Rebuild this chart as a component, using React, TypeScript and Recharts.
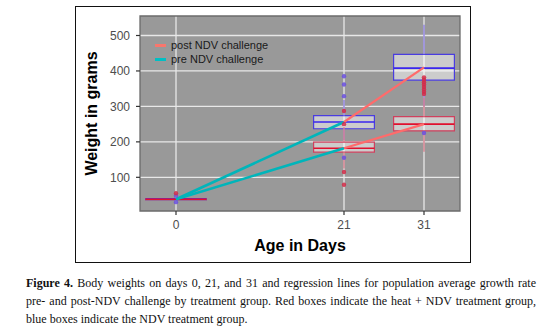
import React from "react";
import {
  ComposedChart,
  XAxis,
  YAxis,
  CartesianGrid,
  ReferenceArea,
  ReferenceLine,
  Scatter,
  Line,
} from "recharts";

// days sampled
const days = [0, 21, 31];
const xTicks = [0, 21, 31];
const yTicks = [100, 200, 300, 400, 500];

// NDV group (blue boxes)
const ndvLow = [36, 205, 300];
const ndvQ1 = [37, 237, 374];
const ndvMed = [38.5, 256, 408];
const ndvQ3 = [39.5, 274, 447];
const ndvHigh = [41, 318, 530];
const ndvOutDays = [0, 0, 21, 21, 21, 21, 31];
const ndvOutVals = [48, 30, 385, 362, 329, 155, 225];

// heat + NDV group (red boxes)
const heatLow = [36, 125, 172];
const heatQ1 = [37, 171, 231];
const heatMed = [38, 182, 250];
const heatQ3 = [39, 199, 271];
const heatHigh = [40, 242, 325];
const heatOutDays = [0, 21, 21, 21, 21, 31, 31, 31, 31, 31, 31, 31, 31];
const heatOutVals = [55, 287, 250, 115, 79, 382, 375, 368, 362, 355, 348, 341, 335];

// regression lines (population average growth)
const preDays = [0, 21];
const preNdv = [38, 256];
const preHeat = [38, 182];
const postDays = [21, 31];
const postNdv = [256, 410];
const postHeat = [182, 250];

const legendLabels = ["post NDV challenge", "pre NDV challenge"];
const legendColors = ["#F8766D", "#00BFC4"];

const X_DOMAIN = [-4.5, 35.5];
const Y_DOMAIN = [5, 555];
const BOX_HALF = 3.8;

const toPts = (xs: number[], ys: number[]) => xs.map((d, i) => ({ day: d, w: ys[i] }));

const BLUE = "#4a3ce0";
const BLUE_MED = "#3a26ee";
const BLUE_WHISK = "#8a7ce0";
const RED = "#d0405e";
const RED_MED = "#e0102e";
const RED_WHISK = "#d67888";

function boxes(
  prefix: string,
  low: number[],
  q1: number[],
  med: number[],
  q3: number[],
  high: number[],
  stroke: string,
  medStroke: string,
  whisk: string
) {
  const out: React.ReactNode[] = [];
  days.forEach((d, i) => {
    out.push(
      <ReferenceLine
        key={`${prefix}-wl-${i}`}
        segment={[{ x: d, y: low[i] }, { x: d, y: q1[i] }]}
        stroke={whisk}
        strokeWidth={1.3}
        ifOverflow="visible"
      />
    );
    out.push(
      <ReferenceLine
        key={`${prefix}-wh-${i}`}
        segment={[{ x: d, y: q3[i] }, { x: d, y: high[i] }]}
        stroke={whisk}
        strokeWidth={1.3}
        ifOverflow="visible"
      />
    );
    out.push(
      <ReferenceArea
        key={`${prefix}-box-${i}`}
        x1={d - BOX_HALF}
        x2={d + BOX_HALF}
        y1={q1[i]}
        y2={q3[i]}
        fill="#ffffff"
        fillOpacity={0.5}
        stroke={stroke}
        strokeWidth={1.2}
        strokeOpacity={1}
        ifOverflow="visible"
      />
    );
    out.push(
      <ReferenceLine
        key={`${prefix}-med-${i}`}
        segment={[{ x: d - BOX_HALF, y: med[i] }, { x: d + BOX_HALF, y: med[i] }]}
        stroke={medStroke}
        strokeWidth={1.6}
        ifOverflow="visible"
      />
    );
  });
  return out;
}

const dot = (color: string) => (p: any) => (
  <circle cx={p.cx} cy={p.cy} r={2.2} fill={color} fillOpacity={0.85} />
);

const captionLine: React.CSSProperties = {
  textAlign: "justify",
  textAlignLast: "justify",
  whiteSpace: "nowrap",
};

export default function App() {
  return (
    <div
      style={{
        position: "absolute",
        left: 0,
        top: 0,
        width: 545,
        height: 329,
        background: "#fff",
        fontFamily: "'Liberation Sans', Arial, sans-serif",
      }}
    >
      <div
        style={{
          position: "absolute",
          left: 75,
          top: 6,
          width: 394,
          height: 255,
          border: "1.2px solid #111",
        }}
      />
      <div style={{ position: "absolute", left: 0, top: 0 }}>
        <ComposedChart
          width={545}
          height={265}
          margin={{ top: 16, right: 85, bottom: 0, left: 85 }}
        >
          <CartesianGrid
            fill="#999999"
            stroke="#e8e8e8"
            strokeWidth={1.3}
            horizontalValues={yTicks}
            verticalValues={xTicks}
          />
          <XAxis
            type="number"
            dataKey="day"
            domain={X_DOMAIN}
            ticks={xTicks}
            allowDataOverflow
            height={54}
            axisLine={false}
            tickSize={4}
            tickMargin={5}
            tickLine={{ stroke: "#333", strokeWidth: 1.2 }}
            tick={{ fill: "#4d4d4d", fontSize: 12 }}
            label={{
              content: (p: any) => {
                const vb = p.viewBox;
                return (
                  <text
                    x={vb.x + vb.width / 2}
                    y={vb.y + 40}
                    textAnchor="middle"
                    fontSize={16}
                    fontWeight="bold"
                    fill="#000"
                  >
                    Age in Days
                  </text>
                );
              },
            }}
          />
          <YAxis
            type="number"
            dataKey="w"
            domain={Y_DOMAIN}
            ticks={yTicks}
            allowDataOverflow
            width={55}
            axisLine={false}
            tickSize={4}
            tickMargin={6}
            tickLine={{ stroke: "#333", strokeWidth: 1.2 }}
            tick={{ fill: "#4d4d4d", fontSize: 12 }}
            label={{
              content: (p: any) => {
                const vb = p.viewBox;
                const cx = vb.x + 12;
                const cy = vb.y + vb.height / 2;
                return (
                  <text
                    x={cx}
                    y={cy}
                    transform={`rotate(-90, ${cx}, ${cy})`}
                    textAnchor="middle"
                    fontSize={16}
                    fontWeight="bold"
                    fill="#000"
                  >
                    Weight in grams
                  </text>
                );
              },
            }}
          />
          {boxes("ndv", ndvLow, ndvQ1, ndvMed, ndvQ3, ndvHigh, BLUE, BLUE_MED, BLUE_WHISK)}
          {boxes("heat", heatLow, heatQ1, heatMed, heatQ3, heatHigh, RED, RED_MED, RED_WHISK)}
          <ReferenceArea
            x1={X_DOMAIN[0]}
            x2={X_DOMAIN[1]}
            y1={Y_DOMAIN[0]}
            y2={Y_DOMAIN[1]}
            fill="none"
            stroke="#6b6b6b"
            strokeWidth={1.3}
          />
          <Scatter
            data={toPts(ndvOutDays, ndvOutVals)}
            dataKey="w"
            shape={dot("#6a4fe0")}
            isAnimationActive={false}
          />
          <Scatter
            data={toPts(heatOutDays, heatOutVals)}
            dataKey="w"
            shape={dot("#d42a48")}
            isAnimationActive={false}
          />
          <Line
            data={toPts(preDays, preNdv)}
            dataKey="w"
            stroke="#00B5BA"
            strokeWidth={2.6}
            dot={false}
            type="linear"
            isAnimationActive={false}
          />
          <Line
            data={toPts(preDays, preHeat)}
            dataKey="w"
            stroke="#00B5BA"
            strokeWidth={2.6}
            dot={false}
            type="linear"
            isAnimationActive={false}
          />
          <Line
            data={toPts(postDays, postNdv)}
            dataKey="w"
            stroke="#FF6B6B"
            strokeWidth={2.2}
            dot={false}
            type="linear"
            isAnimationActive={false}
          />
          <Line
            data={toPts(postDays, postHeat)}
            dataKey="w"
            stroke="#FF6B6B"
            strokeWidth={2.2}
            dot={false}
            type="linear"
            isAnimationActive={false}
          />
        </ComposedChart>
      </div>
      <div style={{ position: "absolute", left: 155, top: 38 }}>
        {legendLabels.map((lab, i) => (
          <div
            key={lab}
            style={{ display: "flex", alignItems: "center", height: 14.3 }}
          >
            <span
              style={{
                display: "inline-block",
                width: 11,
                height: 3,
                background: legendColors[i],
                marginRight: 5,
              }}
            />
            <span style={{ fontSize: 11, color: "#1a1a1a" }}>{lab}</span>
          </div>
        ))}
      </div>
      <div
        style={{
          position: "absolute",
          left: 26,
          top: 274,
          width: 510,
          fontFamily: "'Liberation Serif', 'Times New Roman', serif",
          fontSize: 12,
          lineHeight: "18px",
          color: "#111",
        }}
      >
        <div style={captionLine}>
          <b>Figure 4.</b> Body weights on days 0, 21, and 31 and regression lines for
          population average growth rate
        </div>
        <div style={captionLine}>
          pre- and post-NDV challenge by treatment group. Red boxes indicate the heat + NDV
          treatment group,
        </div>
        <div style={{ whiteSpace: "nowrap" }}>
          blue boxes indicate the NDV treatment group.
        </div>
      </div>
    </div>
  );
}
